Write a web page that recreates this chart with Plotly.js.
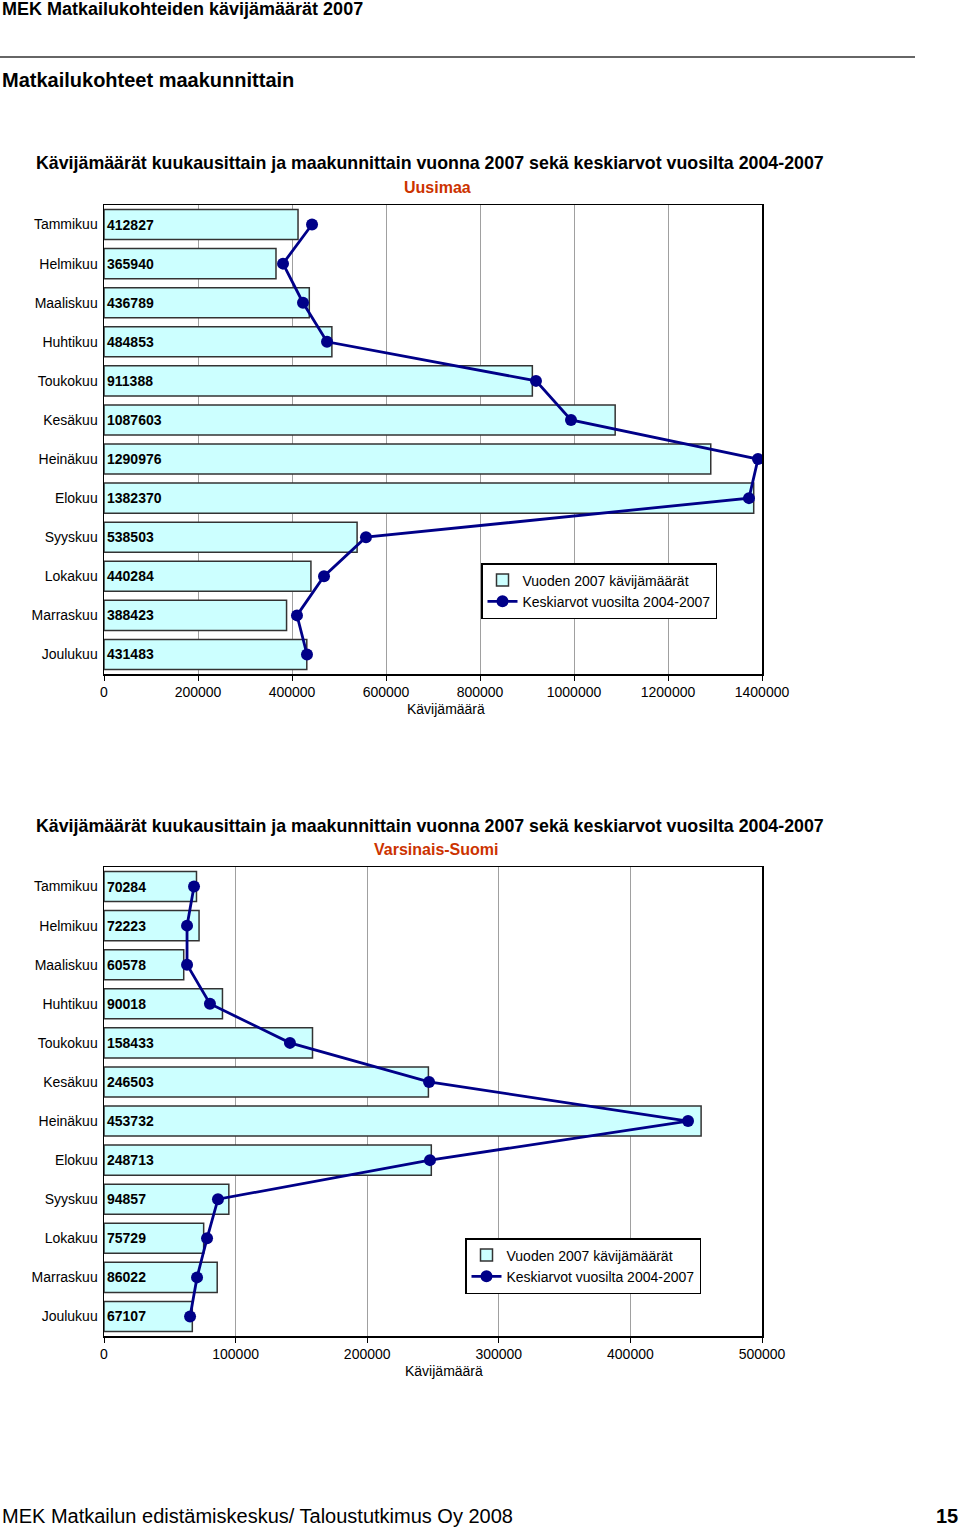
<!DOCTYPE html>
<html>
<head>
<meta charset="utf-8">
<script src="https://cdn.plot.ly/plotly-3.0.1.min.js"></script>
<style>html,body{margin:0;padding:0;background:#fff;}#chart{width:960px;height:1528px;}</style>
</head>
<body>
<div id="chart"></div>
<script>
// ---- data ----
const months = ['Tammikuu','Helmikuu','Maaliskuu','Huhtikuu','Toukokuu','Kesäkuu','Heinäkuu','Elokuu','Syyskuu','Lokakuu','Marraskuu','Joulukuu'];
const uusimaa2007 = [412827,365940,436789,484853,911388,1087603,1290976,1382370,538503,440284,388423,431483];
const uusimaaAvg = [442600,380900,423400,474500,919100,993600,1391500,1372300,557400,468100,410600,431900];
const vsuomi2007 = [70284,72223,60578,90018,158433,246503,453732,248713,94857,75729,86022,67107];
const vsuomiAvg = [68400,63100,63100,80500,141300,247000,443800,247700,86600,78300,70700,65400];
const barName = 'Vuoden 2007 kävijämäärät';
const lineName = 'Keskiarvot vuosilta 2004-2007';
const mainTitle = 'Kävijämäärät kuukausittain ja maakunnittain vuonna 2007 sekä keskiarvot vuosilta 2004-2007';
const regions = ['Uusimaa','Varsinais-Suomi'];
const axisTitle = 'Kävijämäärä';

// ---- helpers ----
const W = 960, H = 1528;
const px = p => p / W;
const py = p => 1 - p / H;
const FONT = 'Liberation Sans, Arial, Helvetica, sans-serif';

function barTrace(vals, xa, ya, leg) {
  return {
    type: 'bar', orientation: 'h', x: vals, y: months, xaxis: xa, yaxis: ya,
    name: barName, legend: leg, legendgroup: 'bars',
    marker: {color: '#ccffff', line: {color: '#333333', width: 1.5}},
    text: vals.map(String), textposition: 'inside', insidetextanchor: 'start',
    constraintext: 'none', cliponaxis: false,
    textfont: {family: FONT, size: 14, color: '#000', weight: 700},
    hoverinfo: 'skip'
  };
}
function lineTrace(vals, xa, ya, leg) {
  return {
    type: 'scatter', mode: 'lines+markers', x: vals, y: months, xaxis: xa, yaxis: ya,
    name: lineName, legend: leg, legendgroup: 'line',
    line: {color: '#000088', width: 2.8},
    marker: {color: '#000088', size: 12},
    cliponaxis: false, hoverinfo: 'skip'
  };
}

const data = [
  barTrace(uusimaa2007, 'x', 'y', 'legend'),
  lineTrace(uusimaaAvg, 'x', 'y', 'legend'),
  barTrace(vsuomi2007, 'x2', 'y2', 'legend2'),
  lineTrace(vsuomiAvg, 'x2', 'y2', 'legend2')
];

function xAx(range, dtick, anchor) {
  return {
    domain: [px(104), px(762)], range: range, dtick: dtick, tick0: 0, tickformat: 'd',
    showgrid: true, gridcolor: '#a0a0a0', gridwidth: 1, zeroline: false,
    showline: true, linecolor: '#000', linewidth: 1.5, mirror: true,
    ticks: 'outside', ticklen: 5, tickcolor: '#000', tickwidth: 1,
    tickfont: {family: FONT, size: 14, color: '#000'},
    anchor: anchor, fixedrange: true
  };
}
function yAx(top, bottom, anchor) {
  return {
    domain: [py(bottom), py(top)], type: 'category',
    categoryorder: 'array', categoryarray: months,
    range: [months.length - 0.5, -0.5], autorange: false,
    showline: true, linecolor: '#000', linewidth: 1.5, mirror: true,
    showgrid: false, zeroline: false, ticks: '', ticklabelstandoff: 2,
    tickfont: {family: FONT, size: 14, color: '#000'},
    anchor: anchor, fixedrange: true
  };
}
function legendCfg(x, y) {
  return {
    x: px(x), y: py(y), xanchor: 'left', yanchor: 'top',
    bordercolor: '#000', borderwidth: 1.5, bgcolor: '#fff',
    font: {family: FONT, size: 14, color: '#000'},
    tracegroupgap: 6, itemwidth: 30, traceorder: 'normal'
  };
}
function ann(text, x, y, size, opts) {
  return Object.assign({
    text: text, xref: 'paper', yref: 'paper', x: px(x), y: py(y),
    xanchor: 'center', yanchor: 'middle', showarrow: false,
    font: {family: FONT, size: size, color: '#000'}
  }, opts || {});
}

const layout = {
  width: W, height: H, margin: {l: 0, r: 0, t: 0, b: 0},
  paper_bgcolor: '#fff', plot_bgcolor: '#fff',
  font: {family: FONT, size: 14, color: '#000'},
  showlegend: true, bargap: 0.23,
  xaxis: xAx([0, 1400000], 200000, 'y'),
  yaxis: yAx(205, 674, 'x'),
  xaxis2: xAx([0, 500000], 100000, 'y2'),
  yaxis2: yAx(867, 1336, 'x2'),
  legend: legendCfg(481, 563),
  legend2: legendCfg(465, 1238),
  shapes: [
    {type: 'line', xref: 'paper', yref: 'paper', x0: 0, x1: px(915), y0: py(57), y1: py(57),
     line: {color: '#333', width: 1.5}}
  ],
  annotations: [
    ann('<b>MEK Matkailukohteiden kävijämäärät 2007</b>', 0, 9, 18, {xanchor: 'left'}),
    ann('<b>Matkailukohteet maakunnittain</b>', 0, 80, 20, {xanchor: 'left'}),
    ann('<b>' + mainTitle + '</b>', 430, 163, 17.8),
    ann('<b>' + regions[0] + '</b>', 437, 187, 16, {font: {family: FONT, size: 16, color: '#cc3300'}}),
    ann(axisTitle, 446, 709, 14),
    ann('<b>' + mainTitle + '</b>', 430, 826, 17.8),
    ann('<b>' + regions[1] + '</b>', 436, 849, 16, {font: {family: FONT, size: 16, color: '#cc3300'}}),
    ann(axisTitle, 444, 1371, 14),
    ann('MEK Matkailun edistämiskeskus/ Taloustutkimus Oy 2008', 0, 1516, 20, {xanchor: 'left'}),
    ann('<b>15</b>', 960, 1516, 20, {xanchor: 'right'})
  ]
};

Plotly.newPlot('chart', data, layout, {displayModeBar: false, staticPlot: true});
</script>
</body>
</html>
